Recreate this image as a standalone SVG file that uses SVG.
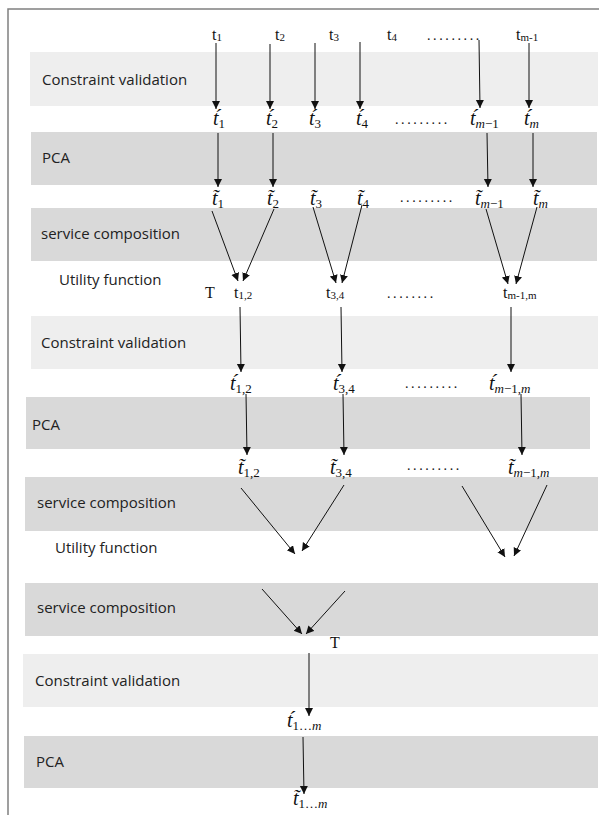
<svg xmlns="http://www.w3.org/2000/svg" width="599" height="815" viewBox="0 0 599 815">
<defs>
<marker id="ah" markerUnits="userSpaceOnUse" markerWidth="9" markerHeight="9" refX="8" refY="4" orient="auto">
<path d="M0,0 L8,4 L0,8 z" fill="#111"/>
</marker>
</defs>
<style>
.light{fill:#eeeeee}
.dark{fill:#d9d9d9}
.lbl{font-family:"Open Sans","Liberation Sans",sans-serif;font-size:15px;fill:#222}
.p{font-family:"Liberation Serif",serif;font-size:16px;fill:#111}
.ps{font-size:11px}
.m{font-family:"Liberation Serif",serif;font-style:italic;font-size:20px;fill:#111}
.ms{font-size:13px;font-style:normal}
.i{font-style:italic}
.dots{font-family:"Liberation Serif",serif;font-size:14px;fill:#111;letter-spacing:2.6px}
.c line{stroke:#111;stroke-width:1;marker-end:url(#ah)}
</style>
<rect width="599" height="815" fill="#fff"/>
<g id="frame" fill="none" stroke="#808080" stroke-width="1.5">
<path d="M8,815 V9 H599"/>
</g>

<g id="band1"><rect class="light" x="30" y="52" width="568" height="54"/><text class="lbl" x="42" y="85">Constraint validation</text></g>
<g id="band2"><rect class="dark" x="31" y="132" width="566" height="53"/><text class="lbl" x="42" y="163">PCA</text></g>
<g id="band3"><rect class="dark" x="31" y="208" width="566" height="53"/><text class="lbl" x="41" y="239">service composition</text></g>
<g id="utility1"><text class="lbl" x="59" y="285">Utility function</text></g>
<g id="band4"><rect class="light" x="31" y="316" width="567" height="53"/><text class="lbl" x="41" y="348">Constraint validation</text></g>
<g id="band5"><rect class="dark" x="26" y="397" width="564" height="52"/><text class="lbl" x="32" y="430">PCA</text></g>
<g id="band6"><rect class="dark" x="25" y="477" width="573" height="54"/><text class="lbl" x="37" y="508">service composition</text></g>
<g id="utility2"><text class="lbl" x="55" y="553">Utility function</text></g>
<g id="band7"><rect class="dark" x="25" y="583" width="573" height="53"/><text class="lbl" x="37" y="613">service composition</text></g>
<g id="band8"><rect class="light" x="23" y="654" width="575" height="53"/><text class="lbl" x="35" y="686">Constraint validation</text></g>
<g id="band9"><rect class="dark" x="24" y="736" width="574" height="52"/><text class="lbl" x="36" y="767">PCA</text></g>

<g id="row-input">
<text class="p" x="212" y="40">t<tspan class="ps" dy="1">1</tspan></text>
<text class="p" x="275" y="40">t<tspan class="ps" dy="1">2</tspan></text>
<text class="p" x="329" y="40">t<tspan class="ps" dy="1">3</tspan></text>
<text class="p" x="387" y="40">t<tspan class="ps" dy="1">4</tspan></text>
<text class="dots" x="427" y="40">.........</text>
<text class="p" x="516" y="40">t<tspan class="ps" dy="1">m-1</tspan></text>
</g>

<g id="row-validated">
<text class="m" x="213" y="125">t&#x301;<tspan class="ms" dy="3">1</tspan></text>
<text class="m" x="266" y="125">t&#x301;<tspan class="ms" dy="3">2</tspan></text>
<text class="m" x="309" y="125">t&#x301;<tspan class="ms" dy="3">3</tspan></text>
<text class="m" x="356" y="125">t&#x301;<tspan class="ms" dy="3">4</tspan></text>
<text class="dots" x="395" y="124">.........</text>
<text class="m" x="470" y="125">t&#x301;<tspan class="ms" dy="3"><tspan class="i">m</tspan>−1</tspan></text>
<text class="m" x="524" y="125">t&#x301;<tspan class="ms i" dy="3">m</tspan></text>
</g>

<g id="row-reduced">
<text class="m" x="212" y="205">t&#x303;<tspan class="ms" dy="3">1</tspan></text>
<text class="m" x="267" y="205">t&#x303;<tspan class="ms" dy="3">2</tspan></text>
<text class="m" x="310" y="205">t&#x303;<tspan class="ms" dy="3">3</tspan></text>
<text class="m" x="357" y="205">t&#x303;<tspan class="ms" dy="3">4</tspan></text>
<text class="dots" x="400" y="202">.........</text>
<text class="m" x="475" y="205">t&#x303;<tspan class="ms" dy="3"><tspan class="i">m</tspan>−1</tspan></text>
<text class="m" x="533" y="205">t&#x303;<tspan class="ms i" dy="3">m</tspan></text>
</g>

<g id="row-pairs">
<text class="p" x="205" y="298">T</text>
<text class="p" x="234" y="298">t<tspan class="ps" dy="1">1,2</tspan></text>
<text class="p" x="326" y="298">t<tspan class="ps" dy="1">3,4</tspan></text>
<text class="dots" x="387" y="298">........</text>
<text class="p" x="503" y="298">t<tspan class="ps" dy="1">m-1,m</tspan></text>
</g>

<g id="row-pairs-validated">
<text class="m" x="230" y="390">t&#x301;<tspan class="ms" dy="3">1,2</tspan></text>
<text class="m" x="333" y="390">t&#x301;<tspan class="ms" dy="3">3,4</tspan></text>
<text class="dots" x="405" y="388">.........</text>
<text class="m" x="489" y="390">t&#x301;<tspan class="ms" dy="3"><tspan class="i">m</tspan>−1,<tspan class="i">m</tspan></tspan></text>
</g>

<g id="row-pairs-reduced">
<text class="m" x="238" y="474">t&#x303;<tspan class="ms" dy="3">1,2</tspan></text>
<text class="m" x="330" y="474">t&#x303;<tspan class="ms" dy="3">3,4</tspan></text>
<text class="dots" x="407" y="470">.........</text>
<text class="m" x="508" y="474">t&#x303;<tspan class="ms" dy="3"><tspan class="i">m</tspan>−1,<tspan class="i">m</tspan></tspan></text>
</g>

<g id="row-final">
<text class="p" x="330" y="648">T</text>
<text class="m" x="287" y="727">t&#x301;<tspan class="ms" dy="3">1…<tspan class="i">m</tspan></tspan></text>
<text class="m" x="293" y="805">t&#x303;<tspan class="ms" dy="3">1…<tspan class="i">m</tspan></tspan></text>
</g>

<g id="connectors" class="c">
<line x1="216" y1="43" x2="216" y2="109"/>
<line x1="270" y1="44" x2="270" y2="109"/>
<line x1="315" y1="43" x2="315" y2="109"/>
<line x1="360" y1="42" x2="360" y2="109"/>
<line x1="479" y1="40" x2="480" y2="108"/>
<line x1="529" y1="43" x2="529" y2="108"/>

<line x1="218" y1="133" x2="218" y2="187"/>
<line x1="273" y1="133" x2="273" y2="187"/>
<line x1="487" y1="133" x2="488" y2="187"/>
<line x1="533" y1="133" x2="533" y2="187"/>

<line x1="212" y1="211" x2="238" y2="281"/>
<line x1="274" y1="209" x2="243" y2="281"/>
<line x1="313" y1="207" x2="336" y2="283"/>
<line x1="362" y1="205" x2="342" y2="283"/>
<line x1="486" y1="209" x2="508" y2="284"/>
<line x1="537" y1="207" x2="516" y2="284"/>

<line x1="240" y1="307" x2="241" y2="372"/>
<line x1="341" y1="307" x2="342" y2="372"/>
<line x1="511" y1="307" x2="511" y2="372"/>

<line x1="246" y1="394" x2="247" y2="455"/>
<line x1="343" y1="394" x2="344" y2="455"/>
<line x1="521" y1="394" x2="522" y2="455"/>

<line x1="241" y1="488" x2="295" y2="554"/>
<line x1="344" y1="485" x2="302" y2="551"/>
<line x1="462" y1="486" x2="505" y2="557"/>
<line x1="547" y1="485" x2="514" y2="556"/>

<line x1="262" y1="589" x2="302" y2="634"/>
<line x1="345" y1="591" x2="306" y2="634"/>

<line x1="309" y1="653" x2="309" y2="716"/>
<line x1="303" y1="737" x2="304" y2="794"/>
</g>
</svg>
